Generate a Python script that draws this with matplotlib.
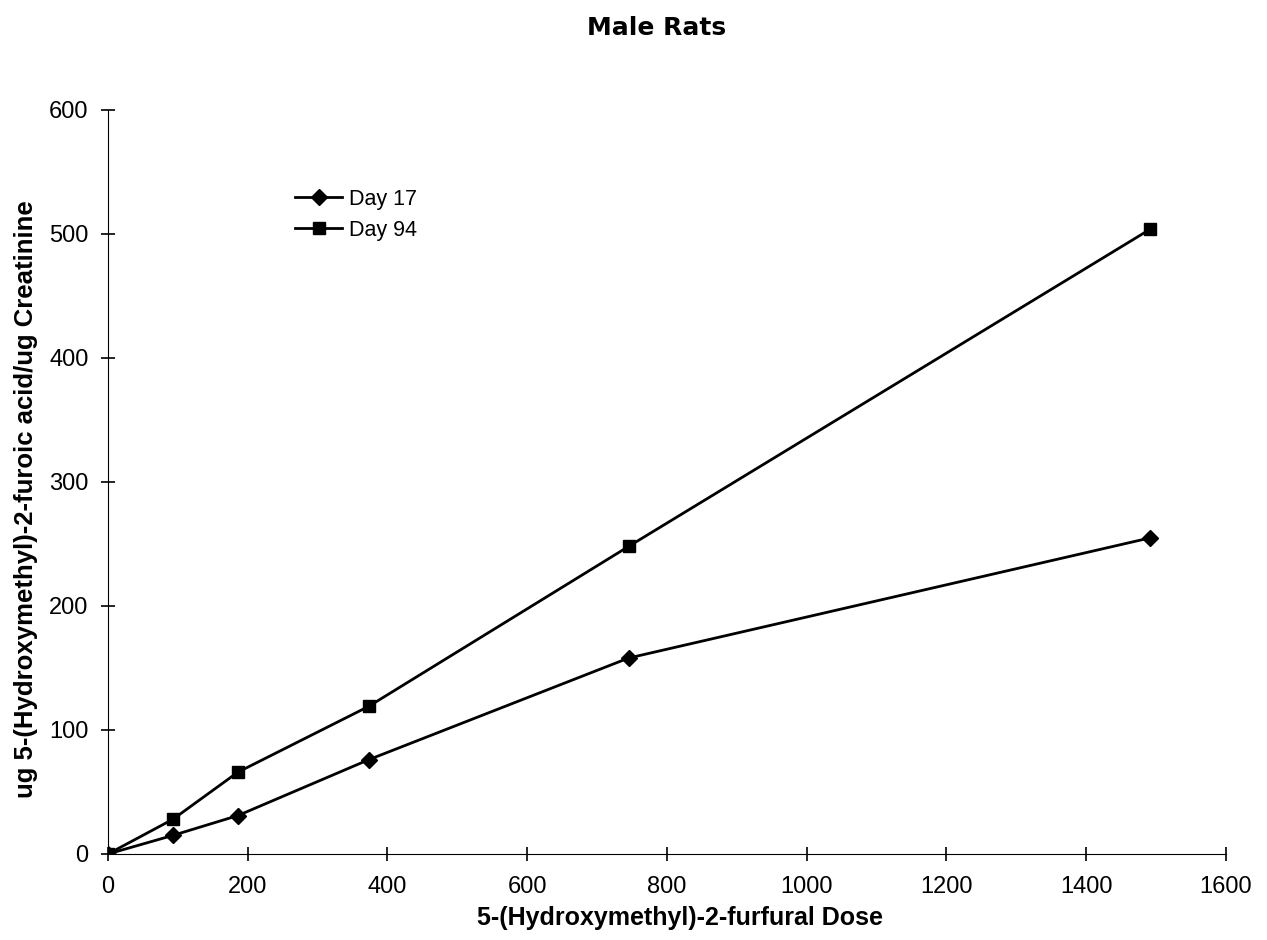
import numpy as np
import matplotlib
matplotlib.use("Agg")
import matplotlib.pyplot as plt

plt.rcParams['font.family'] = ['Liberation Sans', 'DejaVu Sans']

dose = [0, 93, 186, 373, 745, 1492]
day17 = [0, 15, 31, 76, 158, 255]
day94 = [0, 28, 66, 119, 248, 504]

fig = plt.figure(figsize=(12.67, 9.4), dpi=100)
ax = fig.add_axes([0.0852, 0.0915, 0.8824, 0.7915])

ax.plot(dose, day17, color='black', lw=2, marker='D', ms=8, label='Day 17')
ax.plot(dose, day94, color='black', lw=2, marker='s', ms=9, label='Day 94')

ax.set_xlim(0, 1600)
ax.set_ylim(0, 600)
ax.set_xticks(np.arange(0, 1601, 200))
ax.set_yticks(np.arange(0, 601, 100))
ax.spines['top'].set_visible(False)
ax.spines['right'].set_visible(False)
ax.tick_params(direction='inout', length=10, width=1.2, labelsize=17, pad=9)
ax.tick_params(axis='x', pad=11)

ax.set_xlabel("5-(Hydroxymethyl)-2-furfural Dose", fontsize=18, fontweight='bold')
ax.xaxis.set_label_coords(0.512, -0.070)
ax.set_ylabel("ug 5-(Hydroxymethyl)-2-furoic acid/ug Creatinine", fontsize=18.5, fontweight='bold')
ax.yaxis.set_label_coords(-0.063, 0.477)

fig.text(0.518, 0.970, "Male Rats", fontsize=18, fontweight='bold',
         family='DejaVu Sans', ha='center', va='center')

ax.legend(loc='upper left', bbox_to_anchor=(0.15, 0.92), frameon=False, fontsize=15.5,
          handlelength=2.2, handletextpad=0.3, labelspacing=0.45)

fig.savefig("out.png", dpi=100)
